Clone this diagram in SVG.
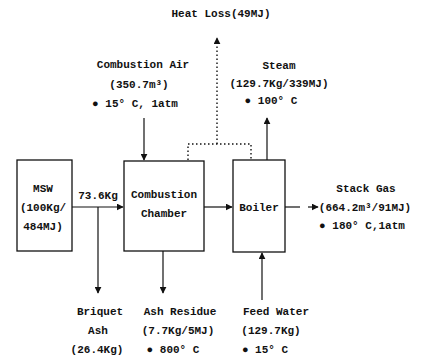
<svg xmlns="http://www.w3.org/2000/svg" width="425" height="360" viewBox="0 0 425 360">
<defs>
<marker id="ah" viewBox="0 0 10 10" refX="9" refY="5" markerWidth="7" markerHeight="7" orient="auto" markerUnits="userSpaceOnUse">
<path d="M0,0 L10,5 L0,10 Z" fill="#111"/>
</marker>
</defs>
<style>
text{font-family:"Liberation Mono","DejaVu Sans Mono",monospace;font-size:11px;fill:#111;text-anchor:middle;font-weight:bold}
.box{fill:#fff;stroke:#111;stroke-width:1.3}
.ln{fill:none;stroke:#111;stroke-width:1.2}
.dot{fill:none;stroke:#111;stroke-width:1.4;stroke-dasharray:1.5 2.5}
</style>
<rect width="425" height="360" fill="#fff"/>
<g id="connectors">
<line class="ln" x1="72" y1="207" x2="123" y2="207" marker-end="url(#ah)"/>
<line class="ln" x1="98" y1="207" x2="98" y2="293" marker-end="url(#ah)"/>
<line class="ln" x1="144" y1="118" x2="144" y2="160" marker-end="url(#ah)"/>
<line class="ln" x1="163" y1="251" x2="163" y2="293" marker-end="url(#ah)"/>
<line class="ln" x1="204" y1="207" x2="232" y2="207" marker-end="url(#ah)"/>
<line class="ln" x1="267" y1="160" x2="267" y2="118" marker-end="url(#ah)"/>
<line class="ln" x1="262" y1="300" x2="262" y2="253" marker-end="url(#ah)"/>
<line class="ln" x1="285" y1="207" x2="300" y2="207"/>
<line class="ln" x1="308" y1="207" x2="318" y2="207" marker-end="url(#ah)"/>
<polyline class="dot" points="188,160 188,144 251,144 251,160"/>
<line class="dot" x1="217" y1="144" x2="217" y2="38" marker-end="url(#ah)"/>
<text x="98" y="199">73.6Kg</text>
</g>
<g id="msw">
<rect class="box" x="17" y="160" width="55" height="91"/>
<text x="43" y="192">MSW</text>
<text x="43" y="211">(100Kg/</text>
<text x="43" y="230">484MJ)</text>
</g>
<g id="chamber">
<rect class="box" x="124" y="161" width="80" height="90"/>
<text x="164" y="198">Combustion</text>
<text x="164" y="217">Chamber</text>
</g>
<g id="boiler">
<rect class="box" x="233" y="160" width="52" height="92"/>
<text x="259" y="211">Boiler</text>
</g>
<g id="heatloss">
<text x="221" y="17">Heat Loss(49MJ)</text>
</g>
<g id="air">
<text x="143" y="68">Combustion Air</text>
<text x="139" y="88">(350.7m³)</text>
<text x="135" y="107">● 15° C, 1atm</text>
</g>
<g id="steam">
<text x="279" y="69">Steam</text>
<text x="279" y="87">(129.7Kg/339MJ)</text>
<text x="271" y="104">● 100° C</text>
</g>
<g id="stack">
<text x="366" y="192">Stack Gas</text>
<text x="365" y="211">(664.2m³/91MJ)</text>
<text x="362" y="229">● 180° C,1atm</text>
</g>
<g id="briquet">
<text x="100" y="315">Briquet</text>
<text x="98" y="334">Ash</text>
<text x="97" y="353">(26.4Kg)</text>
</g>
<g id="ashres">
<text x="180" y="315">Ash Residue</text>
<text x="178" y="334">(7.7Kg/5MJ)</text>
<text x="173" y="353">● 800° C</text>
</g>
<g id="feed">
<text x="276" y="315">Feed Water</text>
<text x="271" y="334">(129.7Kg)</text>
<text x="265" y="353">● 15° C</text>
</g>
</svg>
